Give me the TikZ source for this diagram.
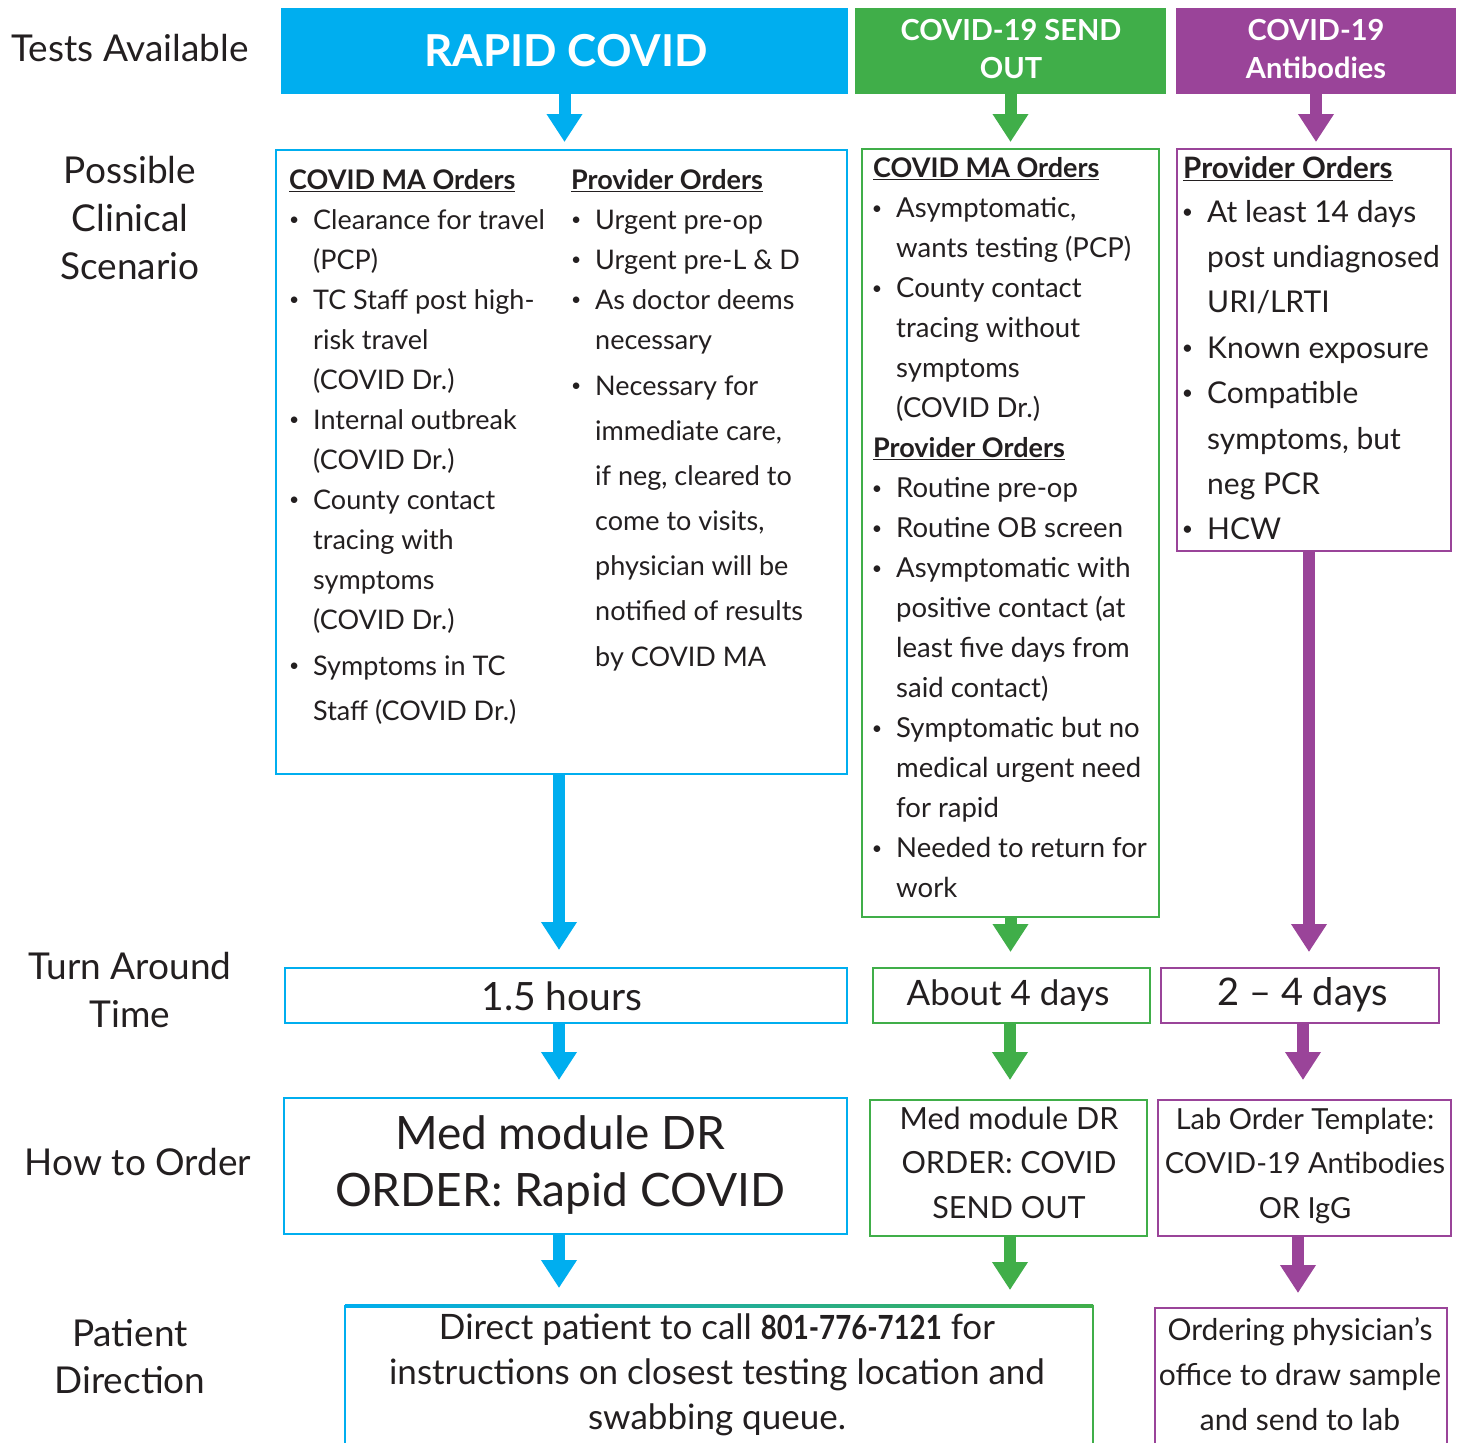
\documentclass[tikz,border=0pt]{standalone}
\usepackage{fontspec}
\usepackage{graphicx}
\setmainfont{Lato}
\usetikzlibrary{arrows.meta}
\definecolor{cblue}{HTML}{00AEEF}
\definecolor{cgreen}{HTML}{40AE49}
\definecolor{cpurple}{HTML}{9A4499}
\definecolor{ctext}{HTML}{231F20}
\newcommand\FS[1]{\fontsize{#1pt}{#1pt}\selectfont}
\newcommand\BL{\llap{\raisebox{0.14em}{\scalebox{0.65}{•}}\hspace{14pt}}}
\newcommand\LL[5]{\node[lnl,font=\FS{#4}] (#1) at (#2,{-#3-0.36*#4}) {#5};}
\newcommand\LC[5]{\node[lnc,font=\FS{#4}] (#1) at (#2,{-#3-0.36*#4}) {#5};}
\newcommand\BOX[7]{\node[#2, minimum width={#5-#3}, minimum height={#6-#4}] (#1) at ({(#3+#5)/2},{-(#4+#6)/2}) {#7};}
\begin{document}
\begin{tikzpicture}[x=1pt,y=1pt,
  lnl/.style={anchor=base west, inner sep=0pt, text=ctext},
  lnc/.style={anchor=base, inner sep=0pt, text=ctext},
  box/.style={draw, line width=2.5pt, inner sep=0pt, outer sep=0pt},
  hdr/.style={inner sep=0pt, outer sep=0pt},
  plain/.style={inner sep=0pt, outer sep=0pt},
  arr/.style={line width=12pt, draw=#1, -{Triangle[length=28pt,width=34pt]}}]
\useasboundingbox (0,0) rectangle (1460,-1443);
\fill[white] (0,0) rectangle (1460,-1443);

% headers
\BOX{hA}{hdr,fill=cblue}{281}{8}{848}{94}{}
\BOX{hB}{hdr,fill=cgreen}{855}{8}{1166}{94}{}
\BOX{hC}{hdr,fill=cpurple}{1176}{8}{1456}{94}{}
\node[lnc,font=\FS{44}\bfseries,text=white] (tA) at (566,{-51-0.36*44}) {RAPID COVID};
\node[lnc,font=\FS{29}\bfseries,text=white] (tB1) at (1011,{-30-0.36*29}) {COVID-19 SEND};
\node[lnc,font=\FS{29}\bfseries,text=white] (tB2) at (1011,{-68-0.36*29}) {OUT};
\node[lnc,font=\FS{29}\bfseries,text=white] (tC1) at (1316,{-30-0.36*29}) {COVID-19};
\node[lnc,font=\FS{29}\bfseries,text=white] (tC2) at (1316,{-68-0.36*29}) {Antibodies};

% row labels
\LC{lab1}{130}{48}{37}{Tests Available}
\LC{lab2}{130}{170}{37}{Possible}
\LC{lab3}{130}{218}{37}{Clinical}
\LC{lab4}{130}{266}{37}{Scenario}
\LC{lab5}{130}{966}{37}{Turn Around}
\LC{lab6}{130}{1014}{37}{Time}
\LC{lab7}{138}{1162}{37}{How to Order}
\LC{lab8}{130}{1333}{37}{Patient}
\LC{lab9}{130}{1380}{37}{Direction}

% scenario boxes
\BOX{scA}{box,draw=cblue}{276}{150}{847}{774}{}
\BOX{scB}{box,draw=cgreen}{862}{149}{1159}{917}{}
\BOX{scC}{box,draw=cpurple}{1177}{149}{1451}{551}{}

% rapid: left column
\LL{a0}{289}{180}{27}{\bfseries\underline{COVID MA Orders}}
\LL{a1}{313}{220}{27}{\BL Clearance for travel}
\LL{a2}{313}{260}{27}{(PCP)}
\LL{a3}{313}{300}{27}{\BL TC Staff post high-}
\LL{a4}{313}{340}{27}{risk travel}
\LL{a5}{313}{380}{27}{(COVID Dr.)}
\LL{a6}{313}{420}{27}{\BL Internal outbreak}
\LL{a7}{313}{460}{27}{(COVID Dr.)}
\LL{a8}{313}{500}{27}{\BL County contact}
\LL{a9}{313}{540}{27}{tracing with}
\LL{a10}{313}{580}{27}{symptoms}
\LL{a11}{313}{620}{27}{(COVID Dr.)}
\LL{a12}{313}{666}{27}{\BL Symptoms in TC}
\LL{a13}{313}{711}{27}{Staff (COVID Dr.)}
% rapid: right column
\LL{p0}{571}{180}{27}{\bfseries\underline{Provider Orders}}
\LL{p1}{595}{220}{27}{\BL Urgent pre-op}
\LL{p2}{595}{260}{27}{\BL Urgent pre-L \& D}
\LL{p3}{595}{300}{27}{\BL As doctor deems}
\LL{p4}{595}{340}{27}{necessary}
\LL{p5}{595}{386}{27}{\BL Necessary for}
\LL{p6}{595}{431}{27}{immediate care,}
\LL{p7}{595}{476}{27}{if neg, cleared to}
\LL{p8}{595}{521}{27}{come to visits,}
\LL{p9}{595}{566}{27}{physician will be}
\LL{p10}{595}{611}{27}{notified of results}
\LL{p11}{595}{657}{27}{by COVID MA}

% send out
\LL{g0}{873}{168}{27}{\bfseries\underline{COVID MA Orders}}
\LL{g1}{896}{208}{27.5}{\BL Asymptomatic,}
\LL{g2}{896}{248}{27.5}{wants testing (PCP)}
\LL{g3}{896}{288}{27.5}{\BL County contact}
\LL{g4}{896}{328}{27.5}{tracing without}
\LL{g5}{896}{368}{27.5}{symptoms}
\LL{g6}{896}{408}{27.5}{(COVID Dr.)}
\LL{g7}{873}{448}{27}{\bfseries\underline{Provider Orders}}
\LL{g8}{896}{488}{27.5}{\BL Routine pre-op}
\LL{g9}{896}{528}{27.5}{\BL Routine OB screen}
\LL{g10}{896}{568}{27.5}{\BL Asymptomatic with}
\LL{g11}{896}{608}{27.5}{positive contact (at}
\LL{g12}{896}{648}{27.5}{least five days from}
\LL{g13}{896}{688}{27.5}{said contact)}
\LL{g14}{896}{728}{27.5}{\BL Symptomatic but no}
\LL{g15}{896}{768}{27.5}{medical urgent need}
\LL{g16}{896}{808}{27.5}{for rapid}
\LL{g17}{896}{848}{27.5}{\BL Needed to return for}
\LL{g18}{896}{888}{27.5}{work}

% antibodies
\LL{v0}{1183}{168}{29.5}{\bfseries\underline{Provider Orders}}
\LL{v1}{1207}{212}{30}{\BL At least 14 days}
\LL{v2}{1207}{257}{30}{post undiagnosed}
\LL{v3}{1207}{302}{30}{URI/LRTI}
\LL{v4}{1207}{348}{30}{\BL Known exposure}
\LL{v5}{1207}{393}{30}{\BL Compatible}
\LL{v6}{1207}{439}{30}{symptoms, but}
\LL{v7}{1207}{484}{30}{neg PCR}
\LL{v8}{1207}{529}{30}{\BL HCW}

% turnaround
\BOX{taA}{box,draw=cblue}{285}{968}{847}{1023}{}
\BOX{taB}{box,draw=cgreen}{873}{968}{1150}{1023}{}
\BOX{taC}{box,draw=cpurple}{1161}{968}{1439}{1023}{}
\LC{ta1}{562}{996}{39}{1.5 hours}
\LC{ta2}{1008}{993}{35}{About 4 days}
\LC{ta3}{1303}{992}{38}{2 – 4 days}

% how to order
\BOX{orA}{box,draw=cblue}{284}{1098}{847}{1234}{}
\BOX{orB}{box,draw=cgreen}{870}{1100}{1147}{1236}{}
\BOX{orC}{box,draw=cpurple}{1158}{1100}{1451}{1236}{}
\LC{o1}{560}{1133}{46}{Med module DR}
\LC{o2}{560}{1190}{46}{ORDER: Rapid COVID}
\LC{o3}{1009}{1119}{30.5}{Med module DR}
\LC{o4}{1009}{1163}{30.5}{ORDER: COVID}
\LC{o5}{1009}{1208}{30.5}{SEND OUT}
\LC{o6}{1305}{1119}{29}{Lab Order Template:}
\LC{o7}{1305}{1163}{29}{COVID-19 Antibodies}
\LC{o8}{1305}{1208}{29}{OR IgG}

% patient direction
\BOX{pdA}{plain}{345}{1306}{1093}{1452}{}
\BOX{pdC}{plain}{1155}{1308}{1447}{1452}{}
\shade[left color=cblue, right color=cgreen] ([yshift=1.25pt]pdA.north west) rectangle ([yshift=-1.25pt]pdA.north east);
\draw[cblue, line width=2.5pt] (pdA.south west) -- ([yshift=1.25pt]pdA.north west);
\draw[cgreen, line width=2.5pt] (pdA.south east) -- ([yshift=1.25pt]pdA.north east);
\draw[cpurple, line width=2.5pt] (pdC.south west) -- (pdC.north west) -- (pdC.north east) -- (pdC.south east);
\LC{d1}{717}{1327}{35}{Direct patient to call \scalebox{0.79}[0.95]{\bfseries 801-776-7121} for}
\LC{d2}{717}{1372}{35}{instructions on closest testing location and}
\LC{d3}{717}{1417}{35}{swabbing queue.}
\LC{d4}{1300}{1330}{30}{Ordering physician’s}
\LC{d5}{1300}{1375}{30}{office to draw sample}
\LC{d6}{1300}{1420}{30}{and send to lab}

% arrows
\draw[arr=cblue, shorten >=8pt] (hA.south) -- (hA.south |- scA.north);
\draw[arr=cgreen, shorten >=7pt] (hB.south) -- (hB.south |- scB.north);
\draw[arr=cpurple, shorten >=7pt] (hC.south) -- (hC.south |- scC.north);
\draw[arr=cblue, shorten >=18pt] ([xshift=-2.5pt]scA.south) -- ([xshift=-2.5pt]scA.south |- taA.north);
\draw[arr=cgreen, shorten >=16pt] (scB.south) -- (scB.south |- taB.north);
\draw[arr=cpurple, shorten >=16pt] ([xshift=-5pt]scC.south) -- ([xshift=-5pt]scC.south |- taC.north);
\draw[arr=cblue, shorten >=18pt] ([xshift=-7pt]taA.south) -- ([xshift=-7pt]taA.south |- orA.north);
\draw[arr=cgreen, shorten >=20pt] ([xshift=-1.5pt]taB.south) -- ([xshift=-1.5pt]taB.south |- orB.north);
\draw[arr=cpurple, shorten >=20pt] ([xshift=3pt]taC.south) -- ([xshift=3pt]taC.south |- orC.north);
\draw[arr=cblue, shorten >=18pt] ([xshift=-6.5pt]orA.south) -- ([xshift=-6.5pt]orA.south |- pdA.north);
\draw[arr=cgreen, shorten >=16pt] ([xshift=1.5pt]orB.south) -- ([xshift=1.5pt]orB.south |- pdA.north);
\draw[arr=cpurple, shorten >=15pt] ([xshift=-6.5pt]orC.south) -- ([xshift=-6.5pt]orC.south |- pdC.north);
\end{tikzpicture}
\end{document}
